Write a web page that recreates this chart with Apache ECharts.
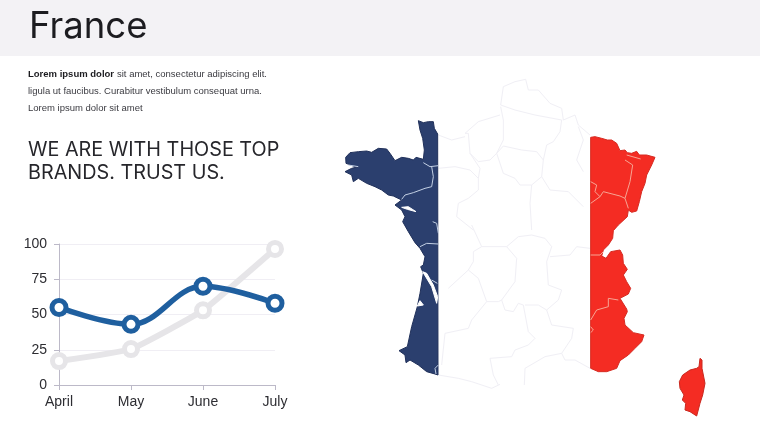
<!DOCTYPE html>
<html>
<head>
<meta charset="utf-8">
<style>html,body{margin:0;padding:0;background:#fff}#c{width:760px;height:428px}</style>
<script src="https://cdn.jsdelivr.net/npm/echarts@6/dist/echarts.min.js"></script>
</head>
<body>
<div id="c"></div>
<script>
var months = ['April', 'May', 'June', 'July'];
var blueValues = [55, 43, 70, 58];
var greyValues = [17, 25.5, 53, 96.5];
var yTicks = [0, 25, 50, 75, 100];

var titleText = 'France';
var bodyLead = 'Lorem ipsum dolor';
var bodyLines = ['sit amet, consectetur adipiscing elit.', 'ligula ut faucibus. Curabitur vestibulum consequat urna.', 'Lorem ipsum dolor sit amet'];
var headingLines = ['WE ARE WITH THOSE TOP', 'BRANDS. TRUST US.'];

// Decorative map outlines. Each group is traced at 3x from a page region, see toPage().
var westShape3x = [[265,152],[280,158],[295,155],[310,155],[313,175],[323,192],[324,915],[315,912],[290,905],[265,885],[240,870],[228,878],[225,855],[207,842],[232,830],[245,770],[262,710],[270,670],[280,610],[272,590],[280,585],[285,560],[270,535],[255,518],[235,485],[218,455],[225,440],[215,420],[195,405],[215,390],[190,378],[175,375],[155,360],[135,350],[110,340],[85,325],[70,335],[65,315],[45,305],[65,295],[85,290],[75,290],[48,280],[47,262],[60,248],[85,245],[110,243],[125,247],[145,235],[170,237],[180,250],[195,272],[215,262],[235,265],[250,270],[258,262],[280,268],[283,240],[278,205],[270,180]];
var westPatches3x = [
  [[278,605],[290,610],[310,645],[323,680],[320,700],[305,650]],
  [[262,708],[270,692],[280,705]],
  [[215,412],[235,410],[258,425],[232,418]]
];
var westBorders3x = [
  [[280,278],[300,290],[325,287]],
  [[305,290],[310,320],[305,350],[285,355],[250,368],[225,375],[215,388]],
  [[308,455],[320,460],[325,490]],
  [[325,522],[290,520],[270,530]],
  [[305,630],[322,640]],
  [[325,885],[315,895],[318,912]],
  [[55,285],[85,290]]
];
var eastShape3x = [[212,82],[225,80],[245,85],[262,90],[275,90],[290,100],[300,122],[315,120],[322,128],[335,130],[350,124],[358,135],[380,135],[405,142],[395,165],[380,195],[375,220],[365,245],[358,275],[350,303],[335,307],[325,300],[322,320],[295,345],[280,362],[278,385],[265,405],[250,420],[245,438],[258,445],[272,425],[300,420],[308,435],[310,460],[322,478],[310,495],[320,515],[332,535],[325,552],[300,565],[320,597],[322,605],[312,625],[315,645],[340,668],[372,675],[365,695],[345,715],[325,735],[300,752],[290,775],[260,785],[235,785],[212,775]];
var corsicaShape3x = [[540,745],[546,750],[546,775],[555,820],[548,855],[540,880],[530,918],[510,905],[495,900],[497,880],[487,870],[492,855],[480,835],[478,815],[488,795],[510,780],[530,775],[537,770]];
var eastBorders3x = [
  [[320,135],[362,147]],
  [[315,150],[338,165],[330,215],[315,265],[325,295]],
  [[212,280],[240,260],[250,245],[300,258],[315,265]],
  [[212,215],[230,225],[225,245],[240,260]],
  [[212,435],[240,435],[250,425]],
  [[212,630],[230,600],[265,590],[265,565],[295,570]],
  [[212,650],[220,660],[212,668]]
];
var northBorders3x = [
  [[197,105],[205,50],[240,35],[272,28],[280,60],[310,60],[345,100],[380,115],[385,150],[420,135],[430,165],[465,195]],
  [[197,105],[240,120],[300,135],[380,150],[375,185],[355,215],[335,225],[325,270],[320,320]],
  [[197,110],[205,150],[205,210],[185,250],[165,270],[130,275],[105,250],[100,190],[90,190],[130,155],[195,135]],
  [[205,228],[260,240],[305,245],[325,270]],
  [[205,228],[185,250],[205,310],[240,325],[255,345],[290,345],[320,320],[345,360],[400,365],[445,410]],
  [[290,345],[285,400],[290,480]],
  [[10,195],[50,210],[90,200]],
  [[10,295],[60,290],[105,300],[130,325],[130,360],[100,385],[70,400],[65,440],[115,480]],
  [[105,250],[135,295],[130,325]],
  [[430,170],[445,210],[425,270],[445,305]]
];
var southBorders3x = [
  [[110,0],[140,65],[215,65],[250,35],[290,30],[330,40],[350,65],[335,110],[340,180],[380,195],[370,225],[335,255],[350,300],[415,310],[410,340],[380,385],[390,405],[420,405]],
  [[140,65],[115,80],[115,110],[100,135],[40,190]],
  [[215,65],[245,100],[240,170],[200,225],[210,255],[235,260],[250,235],[265,240],[280,320],[300,340],[280,360],[240,375],[230,395],[165,400],[175,450],[190,480]],
  [[100,135],[130,160],[155,230],[110,285],[100,310],[30,325],[20,420]],
  [[155,230],[190,230],[200,225]],
  [[270,240],[310,240],[335,255]],
  [[345,95],[405,90],[425,65],[465,70]],
  [[380,385],[330,395],[270,430],[268,480]],
  [[10,450],[70,460],[110,470],[170,490],[195,478]],
  [[420,405],[465,430]]
];

function toPage(list, left, top) {
  return list.map(function (p) { return [left + p[0] / 3, top + p[1] / 3]; });
}
function polygon(points, fill, stroke, z) {
  return { type: 'polygon', z: z, shape: { points: points }, style: { fill: fill, stroke: stroke, lineWidth: 1 }, silent: true };
}
function lines(list, left, top, color, width, z) {
  return list.map(function (p) {
    return { type: 'polyline', z: z, shape: { points: toPage(p, left, top) }, style: { fill: null, stroke: color, lineWidth: width, lineJoin: 'round' }, silent: true };
  });
}
function text(x, y, str, font, color) {
  return { type: 'text', x: x, y: y, z: 10, silent: true, style: { text: str, font: font, fill: color, textVerticalAlign: 'middle' } };
}

var bodyFont = '9.5px "Liberation Sans", Arial, sans-serif';
var headFont = '400 19.8px Inter, sans-serif';

var graphics = [
  { type: 'rect', z: 0, shape: { x: 0, y: 0, width: 760, height: 56 }, style: { fill: '#f3f2f5' }, silent: true },
  text(29, 27, titleText, '400 36.5px Inter, sans-serif', '#1c1c20'),
  text(28, 74, bodyLead, 'bold ' + bodyFont, '#1c1c20'),
  text(117, 74, bodyLines[0], bodyFont, '#3a3a40'),
  text(28, 91, bodyLines[1], bodyFont, '#3a3a40'),
  text(28, 108, bodyLines[2], bodyFont, '#3a3a40'),
  text(28, 150, headingLines[0], headFont, '#26262b'),
  text(28, 173, headingLines[1], headFont, '#26262b'),
  polygon(toPage(westShape3x, 330, 70), '#2b3f6e', '#20305a', 2),
  polygon(toPage(eastShape3x, 520, 110), '#f42c23', '#d62b22', 2),
  polygon(toPage(corsicaShape3x, 520, 110), '#f42c23', '#c9281f', 2)
].concat(
  westPatches3x.map(function (p) { return polygon(toPage(p, 330, 70), '#ffffff', '#ffffff', 3); }),
  lines(northBorders3x, 435, 70, '#f0eff5', 1, 1),
  lines(southBorders3x, 435, 225, '#f0eff5', 1, 1),
  lines(westBorders3x, 330, 70, '#c3d0e4', 1, 3),
  lines(eastBorders3x, 520, 110, '#f7a594', 1, 3)
);

var chart = echarts.init(document.getElementById('c'), null, { renderer: 'canvas' });
chart.setOption({
  animation: false,
  backgroundColor: '#ffffff',
  graphic: graphics,
  grid: { left: 59, right: 485, top: 244, bottom: 43, containLabel: false },
  xAxis: {
    type: 'category', data: months, boundaryGap: false,
    axisLine: { lineStyle: { color: '#bcb9c8', width: 1 } },
    axisTick: { show: true, alignWithLabel: true, length: 5, lineStyle: { color: '#bcb9c8' } },
    axisLabel: { color: '#2d2d32', fontSize: 14, fontFamily: '"Liberation Sans", Arial, sans-serif', margin: 10, interval: 0, showMinLabel: true, showMaxLabel: true },
    splitLine: { show: false }
  },
  yAxis: {
    type: 'value', min: yTicks[0], max: yTicks[yTicks.length - 1], interval: yTicks[1] - yTicks[0],
    axisLine: { show: true, lineStyle: { color: '#bcb9c8', width: 1 } },
    axisTick: { show: true, length: 5, lineStyle: { color: '#bcb9c8' } },
    axisLabel: { color: '#2d2d32', fontSize: 14, fontFamily: '"Liberation Sans", Arial, sans-serif', margin: 12 },
    splitLine: { show: true, lineStyle: { color: '#f0eef4', width: 1 } }
  },
  series: [
    {
      name: 'Grey', type: 'line', data: greyValues, z: 3, smooth: 0.12, clip: false,
      symbol: 'circle', symbolSize: 13, showAllSymbol: true,
      lineStyle: { color: '#e6e5e8', width: 6 },
      itemStyle: { color: '#ffffff', borderColor: '#e6e5e8', borderWidth: 5 }
    },
    {
      name: 'Blue', type: 'line', data: blueValues, z: 4, smooth: 0.38, clip: false,
      symbol: 'circle', symbolSize: 14, showAllSymbol: true,
      lineStyle: { color: '#1f5f9f', width: 5.5 },
      itemStyle: { color: '#ffffff', borderColor: '#1f5f9f', borderWidth: 5 }
    }
  ]
});
</script>
</body>
</html>
